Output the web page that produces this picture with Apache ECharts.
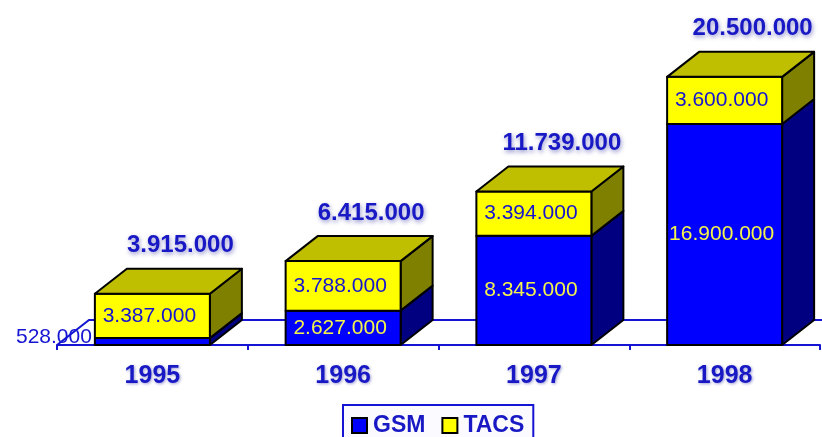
<!DOCTYPE html>
<html>
<head>
<meta charset="utf-8">
<style>html,body{margin:0;padding:0;background:#fff}#chart{width:822px;height:437px}</style>
<script src="https://cdn.jsdelivr.net/npm/echarts@6/dist/echarts.min.js"></script>
</head>
<body>
<div id="chart"></div>
<script>
const years = ['1995', '1996', '1997', '1998'];
const gsm = [528000, 2627000, 8345000, 16900000];
const tacs = [3387000, 3788000, 3394000, 3600000];
const totals = [3915000, 6415000, 11739000, 20500000];

const BLUE = '#1414d2';
const DARK_BLUE = '#1818c4';
const DX = 32, DY = 25, BAR_W = 115;

const fmt = v => String(v).replace(/\B(?=(\d{3})+$)/g, '.');

// one stacked segment: front + side, and the top face for the upper one
function segment(front, side, top, textColor) {
  return function (params, api) {
    const cat = api.value(0), from = api.value(1), to = api.value(2);
    const b = api.coord([cat, from]), t = api.coord([cat, to]);
    const x0 = b[0] - BAR_W / 2, x1 = x0 + BAR_W;
    const line = { stroke: '#000', lineWidth: 2, lineJoin: 'round' };
    const kids = [
      { type: 'polygon', shape: { points: [[x1, b[1]], [x1 + DX, b[1] - DY], [x1 + DX, t[1] - DY], [x1, t[1]]] },
        style: Object.assign({ fill: side }, line) },
      { type: 'rect', shape: { x: x0, y: t[1], width: BAR_W, height: b[1] - t[1] },
        style: Object.assign({ fill: front }, line) }
    ];
    if (top) {
      kids.push({ type: 'polygon', shape: { points: [[x0, t[1]], [x0 + DX, t[1] - DY], [x1 + DX, t[1] - DY], [x1, t[1]]] },
        style: Object.assign({ fill: top }, line) });
    }
    const h = b[1] - t[1];
    const small = h < 20;
    kids.push({
      type: 'text', z2: 5,
      style: {
        x: small ? x0 - 3 : b[0] - 3,
        y: small ? (b[1] + t[1]) / 2 - 4 : (b[1] + t[1]) / 2,
        text: fmt(to - from),
        fill: small ? BLUE : textColor,
        font: '21px "Liberation Sans"',
        align: small ? 'right' : 'center',
        verticalAlign: 'middle'
      }
    });
    return { type: 'group', children: kids };
  };
}

const gsmData = years.map((y, i) => [i, 0, gsm[i]]);
const tacsData = years.map((y, i) => [i, gsm[i], gsm[i] + tacs[i]]);
const totalData = years.map((y, i) => [i, totals[i]]);

const chart = echarts.init(document.getElementById('chart'), null, { renderer: 'canvas' });

chart.setOption({
  backgroundColor: '#fff',
  animation: false,
  grid: { left: 57, right: 2, top: 18, bottom: 92 },
  xAxis: {
    type: 'category',
    data: years,
    axisLine: { lineStyle: { color: BLUE, width: 2 } },
    axisTick: { show: true, alignWithLabel: false, length: 5, lineStyle: { color: BLUE, width: 2 } },
    axisLabel: {
      color: DARK_BLUE, fontFamily: 'Liberation Sans', fontWeight: 'bold', fontSize: 25, margin: 19,
      textShadowColor: 'rgba(40,40,160,0.45)', textShadowBlur: 3, textShadowOffsetX: 1, textShadowOffsetY: 1
    }
  },
  yAxis: { type: 'value', min: 0, max: 25000000, show: false, splitLine: { show: false } },
  legend: {
    data: [{ name: 'GSM', icon: 'rect' }, { name: 'TACS', icon: 'rect' }],
    left: 343, top: 405,
    padding: [9, 9, 10, 8],
    itemWidth: 15, itemHeight: 15, itemGap: 16,
    borderColor: BLUE, borderWidth: 2,
    backgroundColor: '#fbfbff',
    selectedMode: false,
    textStyle: { color: DARK_BLUE, fontFamily: 'Liberation Sans', fontWeight: 'bold', fontSize: 23, padding: [0, 0, 6, 1] }
  },
  series: [
    {
      // back edge of the floor
      type: 'custom', silent: true, z: 1, data: [[0]],
      renderItem: (params, api) => {
        const c = params.coordSys;
        const x0 = c.x, y0 = c.y + c.height;
        return {
          type: 'polyline',
          shape: { points: [[x0, y0], [x0 + DX, y0 - DY], [c.x + c.width + 2, y0 - DY]] },
          style: { stroke: BLUE, lineWidth: 2, fill: 'none' }
        };
      }
    },
    { name: 'GSM', type: 'custom', z: 2, data: gsmData, itemStyle: { color: '#0000ff', borderColor: '#000', borderWidth: 2 },
      renderItem: segment('#0000ff', '#000080', null, '#f4f44a') },
    { name: 'TACS', type: 'custom', z: 3, data: tacsData, itemStyle: { color: '#ffff00', borderColor: '#000', borderWidth: 2 },
      renderItem: segment('#ffff00', '#808000', '#bfbf00', BLUE) },
    {
      name: 'Total', type: 'custom', z: 4, data: totalData,
      renderItem: (params, api) => {
        const p = api.coord([api.value(0), api.value(1)]);
        return {
          type: 'text',
          style: {
            x: p[0] + 28, y: p[1] - DY - 23,
            text: fmt(api.value(1)),
            fill: DARK_BLUE,
            font: 'bold 24px "Liberation Sans"',
            align: 'center', verticalAlign: 'middle',
            textShadowColor: 'rgba(40,40,160,0.5)', textShadowBlur: 4, textShadowOffsetX: 1, textShadowOffsetY: 2
          }
        };
      }
    }
  ]
});
</script>
</body>
</html>
